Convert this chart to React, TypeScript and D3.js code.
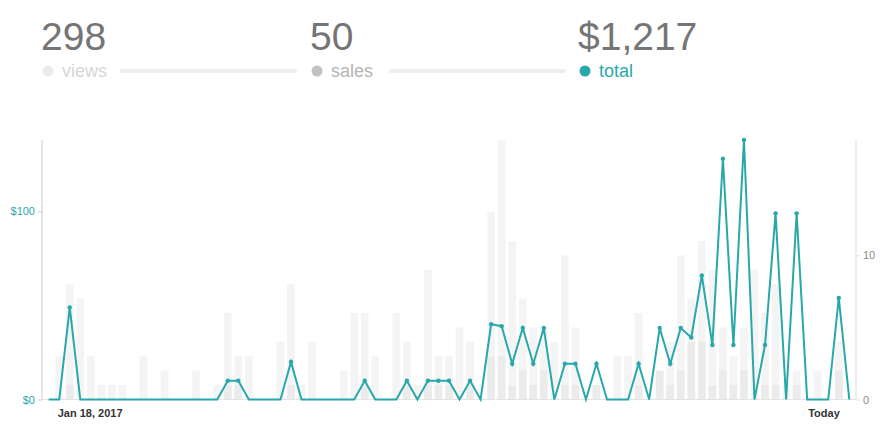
import { useEffect, useRef } from "react";
import * as d3 from "d3";

// one entry per day, padded with an empty day on each side
const views = [
  0, 3, 8, 7, 3, 1, 1, 1, 0, 3, 0, 2, 0, 0, 2, 0, 1, 6, 3, 3, 0, 0, 4, 8, 1, 4,
  0, 0, 2, 6, 6, 3, 0, 6, 4, 1, 9, 3, 3, 5, 4, 0, 13, 18, 11, 7, 5, 5, 4, 10, 5,
  0, 1, 0, 3, 3, 6, 0, 2, 4, 10, 7, 11, 9, 5, 3, 5, 9, 6, 8, 1, 2, 0, 2, 0, 4, 0,
];
const sales = [
  0, 0, 1, 0, 0, 0, 0, 0, 0, 0, 0, 0, 0, 0, 0, 0, 0, 1, 1, 0, 0, 0, 0, 1, 0, 0,
  0, 0, 0, 0, 1, 0, 0, 0, 1, 0, 1, 1, 1, 0, 1, 0, 3, 3, 1, 2, 1, 2, 0, 1, 1,
  0, 1, 0, 0, 0, 1, 0, 2, 1, 2, 4, 4, 1, 2, 1, 2, 0, 1, 1, 0, 1, 0, 0, 0, 2, 0,
];
const totals = [
  0, 0, 49, 0, 0, 0, 0, 0, 0, 0, 0, 0, 0, 0, 0, 0, 0, 10, 10, 0, 0, 0, 0, 20, 0,
  0, 0, 0, 0, 0, 10, 0, 0, 0, 10, 0, 10, 10, 10, 0, 10, 0, 40, 39, 19, 38, 19,
  38, 0, 19, 19, 0, 19, 0, 0, 0, 19, 0, 38, 19, 38, 33, 66, 29, 128, 29, 138, 0,
  29, 99, 0, 99, 0, 0, 0, 54, 0,
];
const dateLabels = [
  { index: 1, label: "Jan 18, 2017", anchor: "start" },
  { index: 75, label: "Today", anchor: "end" },
];
const summary = [
  { value: "298", label: "views", dot: "#ebebeb", text: "#d6d6d6", x: 42 },
  { value: "50", label: "sales", dot: "#c2c2c2", text: "#b5b5b5", x: 311 },
  { value: "$1,217", label: "total", dot: "#29a8ab", text: "#29a8ab", x: 579 },
];

const WIDTH = 880;
const HEIGHT = 426;
const TEAL = "#29a8ab";
const FONT = "'Helvetica Neue', Helvetica, Arial, sans-serif";

export default function App() {
  const svgRef = useRef<SVGSVGElement | null>(null);

  useEffect(() => {
    if (!svgRef.current) return;
    const svg = d3.select(svgRef.current);
    svg.selectAll("*").remove();

    const margin = { top: 140, right: 24, bottom: 26.5, left: 42 };
    const x0 = margin.left;
    const x1 = WIDTH - margin.right;
    const yBase = HEIGHT - margin.bottom;

    const days = d3.range(views.length);
    const x = d3.scalePoint<number>().domain(days).range([x0, x1]).padding(0.635);
    const barW = x.step() * 0.73;

    const yCount = d3
      .scaleLinear()
      .domain([0, d3.max(views) as number])
      .range([yBase, margin.top]);
    const yMoney = d3
      .scaleLinear()
      .domain([0, d3.max(totals) as number])
      .range([yBase, margin.top]);

    // header summary
    const head = svg.append("g").attr("font-family", FONT);
    summary.forEach((s, i) => {
      const g = head.append("g").attr("transform", `translate(${s.x},0)`);
      g.append("text")
        .attr("x", -1)
        .attr("y", 50)
        .attr("font-size", 39)
        .attr("fill", "#757575")
        .text(s.value);
      g.append("circle").attr("cx", 6).attr("cy", 71).attr("r", 5.5).attr("fill", s.dot);
      g.append("text")
        .attr("x", 20)
        .attr("y", 77)
        .attr("font-size", 18)
        .attr("fill", s.text)
        .text(s.label);
      if (i < summary.length - 1) {
        g.append("line")
          .attr("x1", 80)
          .attr("x2", 253)
          .attr("y1", 71)
          .attr("y2", 71)
          .attr("stroke", "#eeeeee")
          .attr("stroke-width", 4)
          .attr("stroke-linecap", "round");
      }
    });

    // bars: views with sales on top of them
    svg
      .append("g")
      .selectAll("rect")
      .data(days.filter((d) => views[d] > 0))
      .join("rect")
      .attr("x", (d) => (x(d) as number) - barW / 2)
      .attr("y", (d) => yCount(views[d]))
      .attr("width", barW)
      .attr("height", (d) => yBase - yCount(views[d]))
      .attr("fill", "#f4f4f4");

    svg
      .append("g")
      .selectAll("rect")
      .data(days.filter((d) => sales[d] > 0))
      .join("rect")
      .attr("x", (d) => (x(d) as number) - barW / 2)
      .attr("y", (d) => yCount(sales[d]))
      .attr("width", barW)
      .attr("height", (d) => yBase - yCount(sales[d]))
      .attr("fill", "#ebebeb");

    // baseline
    svg
      .append("line")
      .attr("x1", x0)
      .attr("x2", x1)
      .attr("y1", yBase)
      .attr("y2", yBase)
      .attr("stroke", "#e3e3e3");

    // left money axis
    const left = svg
      .append("g")
      .attr("transform", `translate(${x0},0)`)
      .call(
        d3
          .axisLeft(yMoney)
          .tickValues([0, 100])
          .tickSize(4)
          .tickPadding(3)
          .tickFormat((d) => `$${d}`)
      );
    left.select(".domain").attr("stroke", "#cccccc").attr("d", `M0,${margin.top}V${yBase}`);
    left.selectAll(".tick line").attr("stroke", "#cccccc");
    left
      .selectAll(".tick text")
      .attr("fill", TEAL)
      .attr("font-size", 11)
      .attr("font-family", FONT);

    // right count axis
    const right = svg
      .append("g")
      .attr("transform", `translate(${x1},0)`)
      .call(d3.axisRight(yCount).tickValues([0, 10]).tickSize(4).tickPadding(3));
    right.select(".domain").attr("stroke", "#dddddd").attr("d", `M0,${margin.top}V${yBase}`);
    right.selectAll(".tick line").attr("stroke", "#dddddd");
    right
      .selectAll(".tick text")
      .attr("fill", "#8a8a8a")
      .attr("font-size", 11)
      .attr("font-family", FONT);

    // total line
    const line = d3
      .line<number>()
      .x((d) => x(d) as number)
      .y((d) => yMoney(totals[d]));

    svg
      .append("path")
      .datum(days)
      .attr("d", line)
      .attr("fill", "none")
      .attr("stroke", TEAL)
      .attr("stroke-width", 2)
      .attr("stroke-linejoin", "miter");

    svg
      .append("g")
      .selectAll("circle")
      .data(days.filter((d) => totals[d] > 0))
      .join("circle")
      .attr("cx", (d) => x(d) as number)
      .attr("cy", (d) => yMoney(totals[d]))
      .attr("r", 2.2)
      .attr("fill", TEAL);

    // date labels
    svg
      .append("g")
      .selectAll("text")
      .data(dateLabels)
      .join("text")
      .attr("x", (d) => (x(d.index) as number) + (d.anchor === "start" ? -1.5 : 1))
      .attr("y", 417)
      .attr("text-anchor", (d) => d.anchor)
      .attr("font-size", 11)
      .attr("font-weight", "bold")
      .attr("font-family", FONT)
      .attr("fill", "#333333")
      .text((d) => d.label);
  }, []);

  return (
    <svg
      ref={svgRef}
      width={WIDTH}
      height={HEIGHT}
      style={{ position: "absolute", left: 0, top: 0, background: "#fff" }}
    />
  );
}
